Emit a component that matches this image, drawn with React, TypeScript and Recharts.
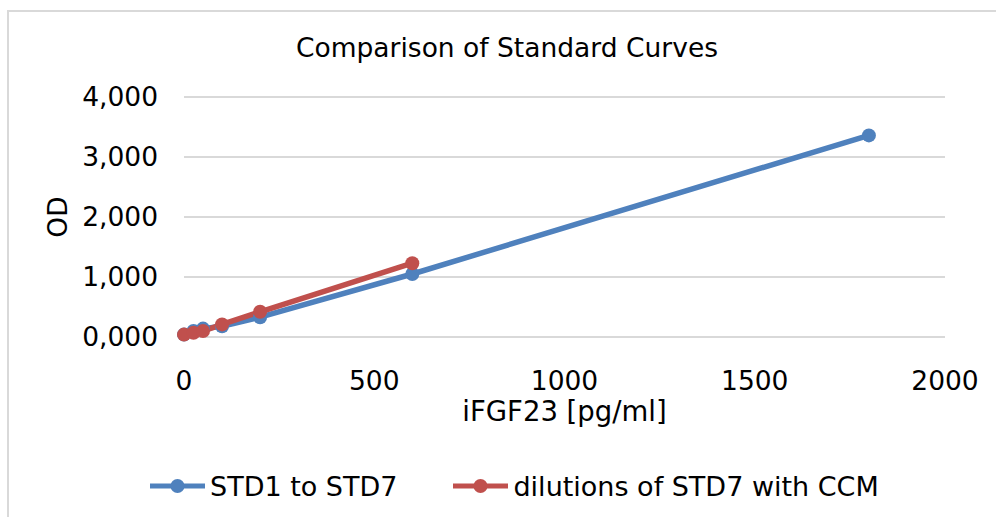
import React from 'react';
import { LineChart, Line, XAxis, YAxis, CartesianGrid, Legend } from 'recharts';

const stdX = [0, 25, 50, 100, 200, 600, 1800];
const stdOD = [0.04, 0.1, 0.14, 0.18, 0.33, 1.05, 3.36];
const dilX = [0, 25, 50, 100, 200, 600];
const dilOD = [0.04, 0.07, 0.1, 0.21, 0.42, 1.23];
const xTicks = [0, 500, 1000, 1500, 2000];
const yTicks = [0, 1, 2, 3, 4];
const seriesNames = ['STD1 to STD7', 'dilutions of STD7 with CCM'];
const colors = ['#4f81bd', '#c0504d'];
const title = 'Comparison of Standard Curves';
const xTitle = 'iFGF23 [pg/ml]';
const yTitle = 'OD';

const stdData = stdX.map((x, i) => ({ x, y: stdOD[i] }));
const dilData = dilX.map((x, i) => ({ x, y: dilOD[i] }));

const FONT = '"DejaVu Sans", Verdana, sans-serif';
const FS = 26.5;

const renderLegend = () => (
  <div style={{ display: 'flex', alignItems: 'center', paddingLeft: 150, height: 40, fontFamily: FONT, fontSize: 27, color: '#000' }}>
    {seriesNames.map((n, i) => (
      <div key={n} style={{ display: 'flex', alignItems: 'center', marginRight: 56 }}>
        <svg width={55} height={20}>
          <line x1={0} y1={10} x2={55} y2={10} stroke={colors[i]} strokeWidth={5} />
          <circle cx={27.5} cy={10} r={7} fill={colors[i]} />
        </svg>
        <span style={{ marginLeft: 5 }}>{n}</span>
      </div>
    ))}
  </div>
);

export default function App() {
  return (
    <div style={{ position: 'absolute', left: 0, top: 0, width: 996, height: 517, overflow: 'hidden', background: '#fff' }}>
      <div style={{ position: 'absolute', left: 7, top: 10, width: 1010, height: 530, borderLeft: '2px solid #d9d9d9', borderTop: '2px solid #d9d9d9' }} />
      <div style={{ position: 'absolute', left: 0, top: 33, width: 1014, textAlign: 'center', lineHeight: '30px', fontFamily: FONT, fontSize: FS, color: '#000' }}>{title}</div>
      <div style={{ position: 'absolute', left: 0, top: 0 }}>
        <LineChart width={996} height={517} margin={{ top: 97, right: 51, bottom: 11, left: 0 }}>
          <CartesianGrid vertical={false} stroke="#d9d9d9" strokeWidth={2} />
          <XAxis
            type="number"
            dataKey="x"
            domain={[0, 2000]}
            ticks={xTicks}
            axisLine={false}
            tickLine={false}
            tickMargin={28}
            height={129}
            tick={{ fontFamily: FONT, fontSize: FS, fill: '#000' }}
            label={{ value: xTitle, position: 'insideTop', offset: 64, style: { fontFamily: FONT, fontSize: 27.5, fill: '#000' } }}
          />
          <YAxis
            type="number"
            dataKey="y"
            domain={[0, 4]}
            ticks={yTicks}
            width={184}
            axisLine={false}
            tickLine={false}
            tickMargin={20}
            tickFormatter={(v: number) => v.toFixed(3).replace('.', ',')}
            tick={{ fontFamily: FONT, fontSize: FS, fill: '#000' }}
            label={{ value: yTitle, angle: -90, position: 'insideLeft', offset: 58, style: { textAnchor: 'middle', fontFamily: FONT, fontSize: FS, fill: '#000' } }}
          />
          <Legend verticalAlign="bottom" content={renderLegend} wrapperStyle={{ left: 0, width: 996 }} />
          <Line data={stdData} dataKey="y" name={seriesNames[0]} stroke={colors[0]} strokeWidth={5.5} dot={{ r: 7, fill: colors[0], stroke: colors[0], strokeWidth: 0 }} isAnimationActive={false} />
          <Line data={dilData} dataKey="y" name={seriesNames[1]} stroke={colors[1]} strokeWidth={5.5} dot={{ r: 7, fill: colors[1], stroke: colors[1], strokeWidth: 0 }} isAnimationActive={false} />
        </LineChart>
      </div>
    </div>
  );
}
